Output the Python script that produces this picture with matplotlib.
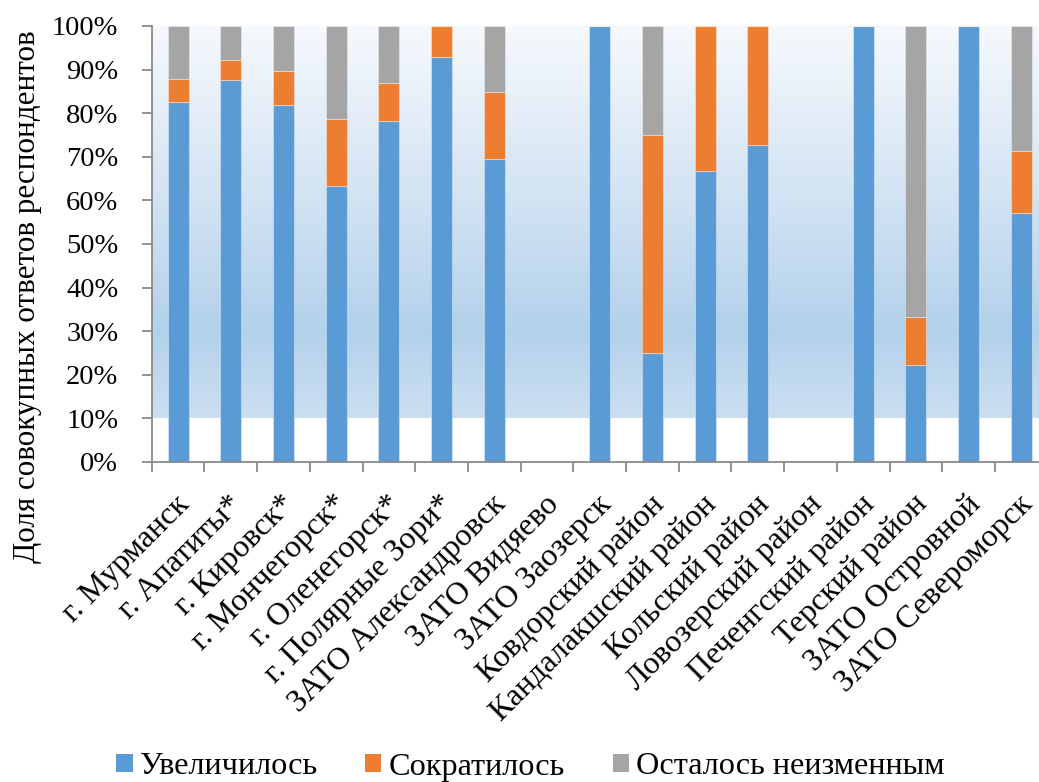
import matplotlib
matplotlib.use("Agg")
import matplotlib.pyplot as plt
import numpy as np
from matplotlib.patches import Patch
from matplotlib.colors import to_rgb
import matplotlib.transforms as mtransforms

plt.rcParams['font.family'] = ['Liberation Serif', 'DejaVu Serif']

categories = ["г. Мурманск", "г. Апатиты*", "г. Кировск*", "г. Мончегорск*",
              "г. Оленегорск*", "г. Полярные Зори*", "ЗАТО Александровск",
              "ЗАТО Видяево", "ЗАТО Заозерск", "Ковдорский район",
              "Кандалакшский район", "Кольский район", "Ловозерский район",
              "Печенгский район", "Терский район", "ЗАТО Островной",
              "ЗАТО Североморск"]
increased = [82.6, 87.7, 81.9, 63.4, 78.1, 92.8, 69.6, 0, 100, 25.0,
             66.7, 72.7, 0, 100, 22.2, 100, 57.1]
decreased = [5.2, 4.6, 7.7, 15.3, 8.8, 7.2, 15.2, 0, 0, 50.0,
             33.3, 27.3, 0, 0, 11.1, 0, 14.3]
unchanged = [12.2, 7.7, 10.4, 21.3, 13.1, 0, 15.2, 0, 0, 25.0,
             0, 0, 0, 0, 66.7, 0, 28.6]
series_names = ["Увеличилось", "Сократилось", "Осталось неизменным"]
colors = ["#5b9bd5", "#ed7d31", "#a5a5a5"]
yticks = [0, 10, 20, 30, 40, 50, 60, 70, 80, 90, 100]

W, H = 1039, 782
fig = plt.figure(figsize=(W / 100, H / 100), dpi=100)
ax = fig.add_axes([151.7 / W, 1 - 462 / H, 896 / W, 436 / H])

n = len(categories)
x = np.arange(n)
ax.set_xlim(-0.5, n - 0.5)
ax.set_ylim(0, 100)

# gradient background from 10% to 100%
stops = [(10, "#cbdff1"), (30, "#b3d1eb"), (60, "#d2e3f3"), (100, "#f6f9fd")]
ys = np.linspace(10, 100, 300)
cols = np.zeros((300, 1, 3))
sy = [s[0] for s in stops]
for c in range(3):
    sv = [to_rgb(s[1])[c] for s in stops]
    cols[:, 0, c] = np.interp(ys, sy, sv)
ax.imshow(cols, extent=[-0.5, n - 0.5, 10, 100], origin='lower',
          aspect='auto', zorder=0, interpolation='bilinear')

bottom = np.zeros(n)
for vals, col, name in zip([increased, decreased, unchanged], colors, series_names):
    v = np.array(vals, dtype=float)
    ax.bar(x, v, width=0.40, bottom=bottom, color=col, edgecolor=(1, 1, 1, 0.35),
           linewidth=0.8, zorder=2, label=name)
    bottom += v

for s in ['top', 'right']:
    ax.spines[s].set_visible(False)
for s in ['left', 'bottom']:
    ax.spines[s].set_color('#898989')
    ax.spines[s].set_linewidth(1.3)
    ax.spines[s].set_zorder(3)

ax.set_yticks(yticks)
ax.set_yticklabels([f"{v}%" for v in yticks], fontsize=20.5)
ax.tick_params(axis='y', length=7, width=1.3, color='#898989', pad=17)

ax.set_xticks(x)
ax.set_xticklabels(categories, fontsize=23, rotation=45, ha='right',
                   va='top', rotation_mode='anchor')
ax.tick_params(axis='x', which='major', length=0, pad=20)
offset = mtransforms.ScaledTranslation(-3 / 100, 0, fig.dpi_scale_trans)
for lbl in ax.get_xticklabels():
    lbl.set_transform(lbl.get_transform() + offset)
ax.set_xticks(np.arange(-0.5, n, 1.0), minor=True)
ax.tick_params(axis='x', which='minor', length=7, width=1.3, color='#898989')

fig.text(28 / W, 1 - 297 / H, "Доля совокупных ответов респондентов",
         rotation=90, ha='center', va='center', fontsize=22.4)

handles = [Patch(facecolor=c, edgecolor='none') for c in colors]
fig.legend(handles, series_names, loc='center', bbox_to_anchor=(530.5 / W, 1 - 767 / H),
           ncol=3, frameon=False, fontsize=23.2, handlelength=0.5,
           handleheight=0.5, handletextpad=0.22, columnspacing=1.5)

fig.savefig("out.png", dpi=100)
